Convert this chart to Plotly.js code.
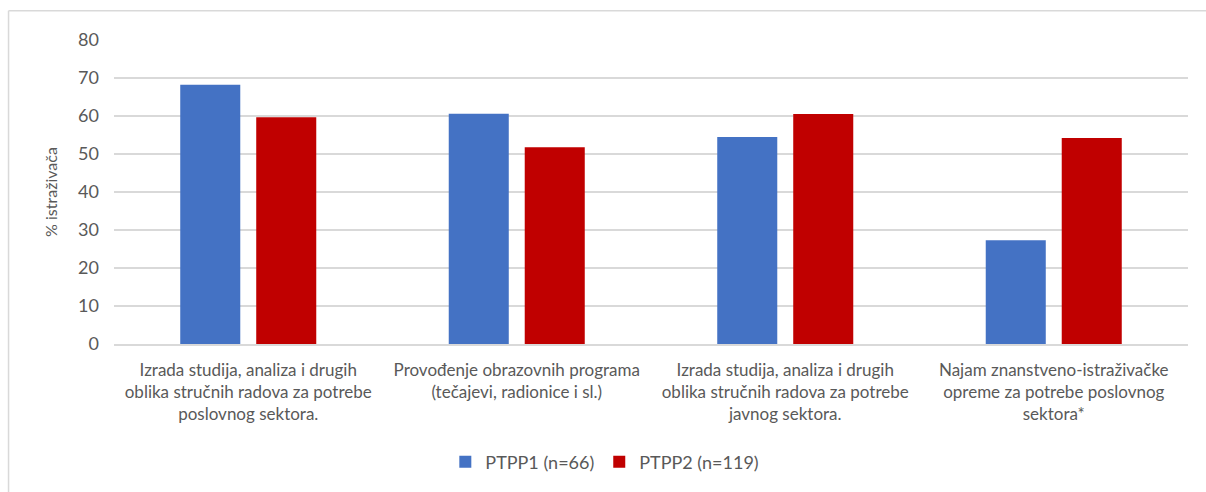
<!DOCTYPE html>
<html>
<head>
<meta charset="utf-8">
<script src="https://cdn.plot.ly/plotly-3.0.1.min.js"></script>
<style>html,body{margin:0;padding:0;background:#fff;}#chart{width:1206px;height:492px;}</style>
</head>
<body>
<div id="chart"></div>
<script>
const categories = [
  "Izrada studija, analiza i drugih<br>oblika stručnih radova za potrebe<br>poslovnog sektora.",
  "Provođenje obrazovnih programa<br>(tečajevi, radionice i sl.)",
  "Izrada studija, analiza i drugih<br>oblika stručnih radova za potrebe<br>javnog sektora.",
  "Najam znanstveno-istraživačke<br>opreme za potrebe poslovnog<br>sektora*"
];
const seriesNames = ["PTPP1 (n=66)", "PTPP2 (n=119)"];
const ptpp1 = [68.2, 60.6, 54.5, 27.3];
const ptpp2 = [59.7, 51.8, 60.5, 54.2];
const yTicks = [0, 10, 20, 30, 40, 50, 60, 70, 80];
const yTitle = "% istraživača";

const font = "Lato, 'Open Sans', sans-serif";
const traces = [
  {type: "bar", name: seriesNames[0], x: categories, y: ptpp1, marker: {color: "#4472C4"}},
  {type: "bar", name: seriesNames[1], x: categories, y: ptpp2, marker: {color: "#C00000"}}
];
const layout = {
  width: 1206, height: 492,
  margin: {l: 114, r: 18, t: 39.5, b: 146.5},
  paper_bgcolor: "#fff", plot_bgcolor: "#fff",
  barmode: "group", bargap: 0.434, bargroupgap: 0.21,
  font: {family: font, color: "#595959"},
  showlegend: true,
  legend: {orientation: "h", x: 0.457, xanchor: "center", y: -0.384, yanchor: "middle",
           font: {size: 18, color: "#595959"}, itemwidth: 30},
  xaxis: {type: "category", tickfont: {size: 17, color: "#595959"}, showgrid: false,
          showline: true, linecolor: "#d9d9d9", linewidth: 1.5, ticks: "", automargin: false,
          ticklabelstandoff: 10},
  yaxis: {range: [0, 80], tickvals: yTicks, tickfont: {size: 18, color: "#595959"},
          gridcolor: "#d9d9d9", gridwidth: 1.5, zeroline: false, showline: false,
          ticks: "", ticklabelstandoff: 14, automargin: false,
          title: {text: yTitle, font: {size: 16, color: "#595959"}, standoff: 16}},
  shapes: [
    {type: "line", xref: "paper", yref: "paper", x0: -0.0982, x1: -0.0982, y0: 1.0964, y1: -0.6,
     line: {color: "#d9d9d9", width: 1.5}},
    {type: "line", xref: "paper", yref: "paper", x0: -0.0982, x1: 1.0168, y0: 1.0964, y1: 1.0964,
     line: {color: "#d9d9d9", width: 1.5}}
  ]
};
Plotly.newPlot("chart", traces, layout, {displayModeBar: false, staticPlot: true});
</script>
</body>
</html>
